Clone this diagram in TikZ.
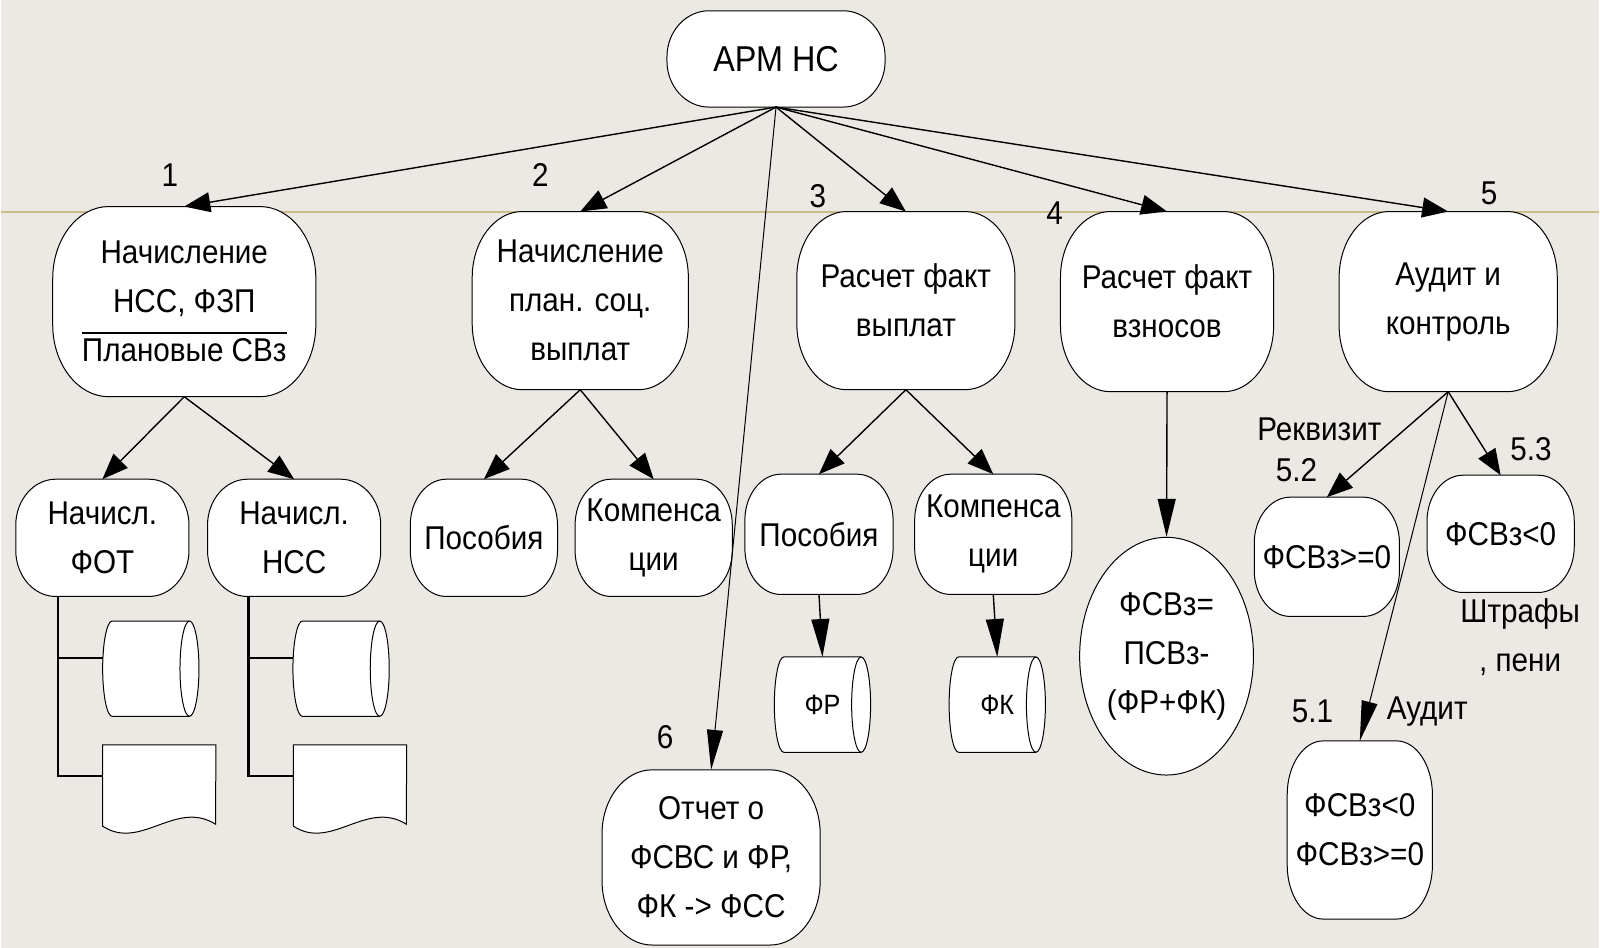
\documentclass[tikz,border=0pt]{standalone}
\usepackage{fontspec}
\setmainfont{Liberation Sans}[FakeStretch=0.9]
\usetikzlibrary{arrows.meta,calc,shapes.geometric}
\pgfdeclarelayer{bg}
\pgfdeclarelayer{shapes}
\pgfsetlayers{bg,shapes,main}
\definecolor{bgcol}{RGB}{236,232,228}
\definecolor{tanline}{RGB}{203,187,138}
\newcommand\bodyfs{\fontsize{33}{49}\selectfont}
\newsavebox\ovlbox
\newcommand\ovl[1]{\sbox\ovlbox{#1}\rlap{\raisebox{\dimexpr\ht\ovlbox+5pt\relax}{\rule{\wd\ovlbox}{1.8pt}}}\usebox\ovlbox}
\newcommand\blob[3]{%
\begin{pgfonlayer}{shapes}
\draw[blobline]
 ($(#1.north west)+(#2,0)$) -- ($(#1.north east)+(-#2,0)$)
 .. controls ($(#1.north east)+(-0.45*#2,0)$) and ($(#1.north east)+(0,0.45*#3)$) .. ($(#1.north east)+(0,#3)$)
 -- ($(#1.south east)+(0,-#3)$)
 .. controls ($(#1.south east)+(0,-0.45*#3)$) and ($(#1.south east)+(-0.45*#2,0)$) .. ($(#1.south east)+(-#2,0)$)
 -- ($(#1.south west)+(#2,0)$)
 .. controls ($(#1.south west)+(0.45*#2,0)$) and ($(#1.south west)+(0,-0.45*#3)$) .. ($(#1.south west)+(0,-#3)$)
 -- ($(#1.north west)+(0,#3)$)
 .. controls ($(#1.north west)+(0,0.45*#3)$) and ($(#1.north west)+(0.45*#2,0)$) .. cycle;
\end{pgfonlayer}}
% horizontal cylinder: name, ellipse half-width e, half-height k
\newcommand\cylshape[3]{%
\begin{pgfonlayer}{shapes}
\draw[blobline]
 ($(#1.north west)+(#2,0)$) -- ($(#1.north east)+(-#2,0)$)
 .. controls ($(#1.north east)+(-0.448*#2,0)$) and ($(#1.east)+(0,-0.552*#3)$) .. (#1.east)
 .. controls ($(#1.east)+(0,0.552*#3)$) and ($(#1.south east)+(-0.448*#2,0)$) .. ($(#1.south east)+(-#2,0)$)
 -- ($(#1.south west)+(#2,0)$)
 .. controls ($(#1.south west)+(0.448*#2,0)$) and ($(#1.west)+(0,0.552*#3)$) .. (#1.west)
 .. controls ($(#1.west)+(0,-0.552*#3)$) and ($(#1.north west)+(0.448*#2,0)$) .. cycle;
\draw[blobline, fill=none]
 ($(#1.north east)+(-#2,0)$)
 .. controls ($(#1.north east)+(-1.552*#2,0)$) and ($(#1.east)+(-2*#2,-0.552*#3)$) .. ($(#1.east)+(-2*#2,0)$)
 .. controls ($(#1.east)+(-2*#2,0.552*#3)$) and ($(#1.south east)+(-1.552*#2,0)$) .. ($(#1.south east)+(-#2,0)$);
\end{pgfonlayer}}
\newcommand\docshape[1]{%
\draw[docline] (#1.north west) -- (#1.north east) -- ($(#1.south west)+(113,17)$)
 .. controls ($(#1.south west)+(73,-8)$) and ($(#1.south west)+(38,44)$) .. ($(#1.south west)+(0,19)$) -- cycle;}
\begin{document}
\begin{tikzpicture}[x=1pt,y=-1pt,
  box/.style={rectangle, draw=none, inner sep=0pt, align=center, font=\bodyfs},
  lbl/.style={font=\bodyfs, inner sep=0pt, align=center},
  conn/.style={line width=1.4pt, -{Triangle[length=26pt,width=20pt]}},
  connlong/.style={line width=1.4pt, -{Triangle[length=38pt,width=18pt]}},
  thinconn/.style={line width=1pt, -{Triangle[length=40pt,width=16pt]}},
  tree/.style={line width=2.2pt},
  blobline/.style={draw=black, line width=1pt, fill=white},
  docline/.style={draw=black, line width=1pt, fill=white},
  cyl/.style={rectangle, draw=none, minimum width=96pt, minimum height=95pt, inner sep=0pt, font=\fontsize{28}{34}\selectfont},
  docnode/.style={rectangle, draw=none, minimum width=113pt, minimum height=62pt, inner sep=0pt}]
\begin{pgfonlayer}{bg}
\fill[bgcol] (0,0) rectangle (1600,949);
\draw[tanline, line width=2pt] (0,212) -- (1600,212);
\end{pgfonlayer}
\useasboundingbox (0,0) rectangle (1600,949);

% main nodes
\node[box, minimum width=218pt, minimum height=96pt, font=\fontsize{36}{40}\selectfont] (apm) at (776,59) {АРМ НС};
\node[box, minimum width=263pt, minimum height=190pt] (n1) at (183.5,302) {Начисление\\НСС, ФЗП\\\ovl{Плановые СВз}};
\node[box, minimum width=216pt, minimum height=178pt] (n2) at (580,301) {Начисление\\план. соц.\\выплат};
\node[box, minimum width=218pt, minimum height=178pt] (n3) at (906,301) {Расчет факт\\выплат};
\node[box, minimum width=213pt, minimum height=180pt] (n4) at (1167.5,302) {Расчет факт\\взносов};
\node[box, minimum width=218pt, minimum height=180pt] (n5) at (1449,302) {Аудит и\\контроль};
\node[box, minimum width=218pt, minimum height=175pt] (n6) at (711,858.5) {Отчет о\\ФСВС и ФР,\\ФК -> ФСС};

\node[box, minimum width=173pt, minimum height=117pt] (n11) at (101.5,538.5) {Начисл.\\ФОТ};
\node[box, minimum width=173pt, minimum height=117pt] (n12) at (293.5,538.5) {Начисл.\\НСС};
\node[box, minimum width=147pt, minimum height=117pt] (n21) at (483.5,538.5) {Пособия};
\node[box, minimum width=157pt, minimum height=117pt] (n22) at (653.5,538.5) {Компенса\\ции};
\node[box, minimum width=148pt, minimum height=120pt] (n31) at (819,535) {Пособия};
\node[box, minimum width=157pt, minimum height=120pt] (n32) at (993.5,535) {Компенса\\ции};
\node[box, minimum width=145pt, minimum height=119pt] (n52) at (1327.5,557.5) {ФСВз>=0};
\node[box, minimum width=147pt, minimum height=117pt] (n53) at (1501.5,534.5) {ФСВз<0};
\node[box, minimum width=145pt, minimum height=178pt] (n51) at (1360.5,831) {ФСВз<0\\ФСВз>=0};

\blob{apm}{42}{46}
\blob{n1}{56}{72}
\blob{n2}{50}{66}
\blob{n3}{50}{66}
\blob{n4}{50}{66}
\blob{n5}{50}{66}
\blob{n6}{50}{64}
\blob{n11}{40}{46}
\blob{n12}{40}{46}
\blob{n21}{36}{46}
\blob{n22}{36}{46}
\blob{n31}{36}{46}
\blob{n32}{36}{46}
\blob{n52}{36}{46}
\blob{n53}{36}{46}
\blob{n51}{36}{54}

\node[ellipse, draw, fill=white, line width=1pt, minimum width=174pt, minimum height=238pt, inner sep=0pt, align=center, font=\bodyfs] (e4) at (1167,657) {ФСВз=\\ПСВз-\\(ФР+ФК)};

% cylinders and documents
\node[cyl] (cfr) at (822.5,705.5) {ФР};
\node[cyl] (cfk) at (997.5,705.5) {ФК};
\node[cyl] (c1) at (150,669.5) {};
\node[cyl] (c2) at (340.5,669.5) {};
\cylshape{cfr}{9.5}{47.5}
\cylshape{cfk}{9.5}{47.5}
\cylshape{c1}{9.5}{47.5}
\cylshape{c2}{9.5}{47.5}
\node[docnode] (d1) at (158.5,777) {};
\node[docnode] (d2) at (349.5,777) {};
\docshape{d1}
\docshape{d2}

% labels
\node[lbl] (l1) at (169,175) {1};
\node[lbl] (l2) at (540,175) {2};
\node[lbl] (l3) at (818,196) {3};
\node[lbl] (l4) at (1055,213) {4};
\node[lbl] (l5) at (1490,194) {5};
\node[lbl] (l6) at (665,738) {6};
\node[lbl] (lrek) at (1320,430) {Реквизит};
\node[lbl] (l52) at (1297,471) {5.2};
\node[lbl] (l53) at (1532,450) {5.3};
\node[lbl] (lshtr) at (1521,638) {Штрафы\\, пени};
\node[lbl] (l51) at (1313,712) {5.1};
\node[lbl] (laud) at (1428,712) {Аудит};

% connectors
\draw[conn] (apm.south) -- (n1.north);
\draw[conn] (apm.south) -- (n2.north);
\draw[conn] (apm.south) -- (n3.north);
\draw[conn] (apm.south) -- (n4.north);
\draw[conn] (apm.south) -- (n5.north);
\draw[thinconn] (apm.south) -- (n6.north);

\draw[conn] (n1.south) -- (n11.north);
\draw[conn] (n1.south) -- (n12.north);
\draw[conn] (n2.south) -- (n21.north);
\draw[conn] (n2.south) -- (n22.north);
\draw[conn] (n3.south) -- (n31.north);
\draw[conn] (n3.south) -- (n32.north);
\draw[connlong] (n31.south) -- (cfr.north);
\draw[connlong] (n32.south) -- (cfk.north);
\draw[connlong] (n4.south) -- (e4.north);
\draw[conn] (n5.south) -- (n52.north);
\draw[conn] (n5.south) -- (n53.north);
\draw[thinconn] (n5.south) -- (n51.north);

% tree lines to stores
\coordinate (v1) at ($(n11.south west)+(42,0)$);
\coordinate (v2) at ($(n12.south west)+(41,0)$);
\coordinate (c1in) at ($(c1.west)+(0,-11)$);
\coordinate (c2in) at ($(c2.west)+(0,-11)$);
\draw[tree] (v1) |- (d1.west);
\draw[tree] (v1 |- c1in) -- (c1in);
\draw[tree] (v2) |- (d2.west);
\draw[tree] (v2 |- c2in) -- (c2in);
\end{tikzpicture}
\end{document}
